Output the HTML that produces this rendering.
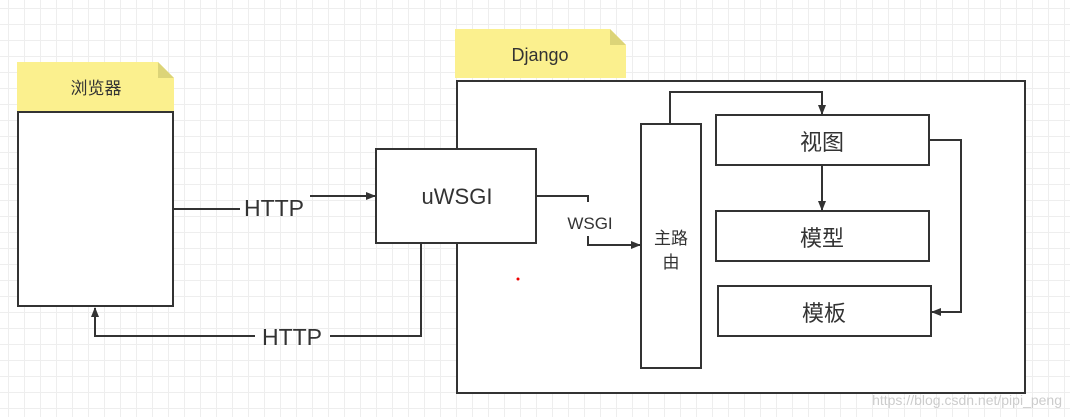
<!DOCTYPE html>
<html><head><meta charset="utf-8"><style>
body{margin:0;width:1070px;height:417px;overflow:hidden;background:#fff;
background-image:linear-gradient(#eeeeee 1px,transparent 1px),linear-gradient(90deg,#eeeeee 1px,transparent 1px);background-size:16px 16px;background-position:-8px -8px}
svg{position:absolute;left:0;top:0}
</style></head><body>
<svg width="1070" height="417" viewBox="0 0 1070 417" font-family="'Liberation Sans','Noto Sans CJK SC',sans-serif">
<defs><marker id="a" markerWidth="10" markerHeight="8" refX="9" refY="4" orient="auto" markerUnits="userSpaceOnUse"><path d="M0,0L10,4L0,8Z" fill="#333"/></marker></defs>
<g stroke="#333" stroke-width="2" fill="none">
<!-- browser -->
<path d="M17,62H158L174,78V111H17Z" fill="#fbf08e" stroke="none"/>
<path d="M158,62L174,78H158Z" fill="#dcd478" stroke="none"/>
<rect x="18" y="112" width="155" height="194" fill="#fff"/>
<!-- django label -->
<path d="M455,29H610L626,45V78H455Z" fill="#fbf08e" stroke="none"/>
<path d="M610,29L626,45H610Z" fill="#dcd478" stroke="none"/>
<rect x="457" y="81" width="568" height="312" fill="#fff"/>
<rect x="376" y="149" width="160" height="94" fill="#fff"/>
<rect x="641" y="124" width="60" height="244"/>
<rect x="716" y="115" width="213" height="50"/>
<rect x="716" y="211" width="213" height="50"/>
<rect x="718" y="286" width="213" height="50"/>
<!-- connectors -->
<path d="M173,209H240"/>
<path d="M310,196H375" marker-end="url(#a)"/>
<path d="M421,243V336H330"/>
<path d="M255,336H95V308" marker-end="url(#a)"/>
<path d="M536,196H588V202"/>
<path d="M588,236V245H640" marker-end="url(#a)"/>
<path d="M670,124V92H822V114" marker-end="url(#a)"/>
<path d="M822,165V210" marker-end="url(#a)"/>
<path d="M929,140H961V312H932" marker-end="url(#a)"/>
</g>
<g fill="#333">
<text x="96" y="94" font-size="17" text-anchor="middle">浏览器</text>
<text x="540" y="61" font-size="18" text-anchor="middle">Django</text>
<text x="274" y="216" font-size="23" text-anchor="middle">HTTP</text>
<text x="292" y="345" font-size="23" text-anchor="middle">HTTP</text>
<text x="457" y="204" font-size="22" text-anchor="middle">uWSGI</text>
<text x="590" y="229" font-size="17" text-anchor="middle">WSGI</text>
<text x="671" y="244" font-size="17" text-anchor="middle">主路</text>
<text x="671" y="268" font-size="17" text-anchor="middle">由</text>
<text x="822" y="150" font-size="22" text-anchor="middle">视图</text>
<text x="822" y="246" font-size="22" text-anchor="middle">模型</text>
<text x="824" y="321" font-size="22" text-anchor="middle">模板</text>
</g>
<circle cx="518" cy="279" r="1.5" fill="#e00"/>
<text x="1062" y="405" font-size="14" fill="#ccc" text-anchor="end" font-family="'Liberation Sans',sans-serif">https://blog.csdn.net/pipi_peng</text>
</svg>
</body></html>
